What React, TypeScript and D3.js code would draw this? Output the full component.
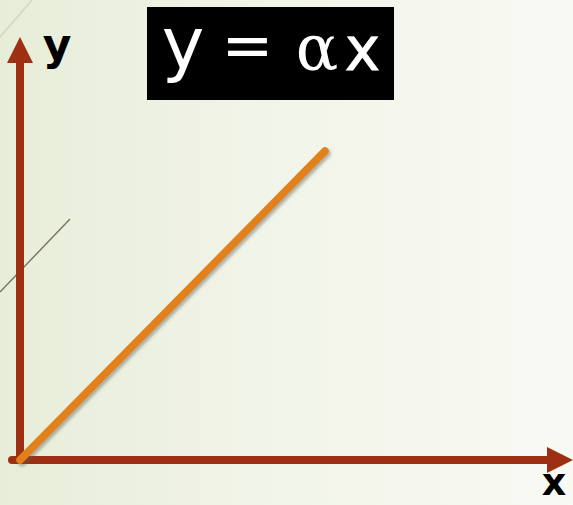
import React from "react";
import * as d3 from "d3";

// Proportional relation y = αx, drawn between two points
const alpha = 1;
const xValues = [0, 1];
const yValues = xValues.map((x) => alpha * x);

const axisLabels = ["x", "y"];
const equationParts = ["y", "=", "α", "x"];

const W = 573;
const H = 505;

export default function App() {
  const xScale = d3.scaleLinear().domain([0, 1]).range([20, 325]);
  const yScale = d3.scaleLinear().domain([0, 1]).range([460, 151]);

  const ox = xScale(0);
  const oy = yScale(0);
  const xTip = 573;
  const yTip = 37;
  const head = 26;
  const halfHead = 13;

  const lineGen = d3
    .line<number>()
    .x((d) => xScale(d))
    .y((_, i) => yScale(yValues[i]));

  const axisColor = "#9D2F12";

  return (
    <div style={{ position: "fixed", left: 0, top: 0, width: W, height: H }}>
      <svg width={W} height={H} style={{ display: "block" }}>
        <defs>
          <linearGradient id="bg" x1="0" y1="0" x2="1" y2="0">
            <stop offset="0" stopColor="#E8EDD9" />
            <stop offset="0.45" stopColor="#F1F4E8" />
            <stop offset="1" stopColor="#F9FAF4" />
          </linearGradient>
          <filter id="shadow" x="-10%" y="-10%" width="130%" height="130%">
            <feDropShadow dx="2" dy="2.5" stdDeviation="1.6" floodColor="#5a5a50" floodOpacity="0.45" />
          </filter>
        </defs>
        <rect x={0} y={0} width={W} height={H} fill="url(#bg)" />
        {/* decorative strokes */}
        <line x1={0} y1={37} x2={32} y2={0} stroke="#D2D5C4" strokeWidth={1.5} />
        <line x1={0} y1={292} x2={70} y2={219} stroke="#77725F" strokeWidth={1.4} />

        {/* axes */}
        <line x1={ox - 8} y1={oy} x2={xTip - head} y2={oy} stroke={axisColor} strokeWidth={8} strokeLinecap="round" />
        <line x1={ox} y1={oy + 4} x2={ox} y2={yTip + head} stroke={axisColor} strokeWidth={8} strokeLinecap="butt" />
        <path
          d={`M${xTip - head},${oy - halfHead}L${xTip},${oy}L${xTip - head},${oy + halfHead}Z`}
          fill={axisColor}
        />
        <path
          d={`M${ox - halfHead},${yTip + head}L${ox},${yTip}L${ox + halfHead},${yTip + head}Z`}
          fill={axisColor}
        />

        {/* relation line */}
        <path
          d={lineGen(xValues) || ""}
          fill="none"
          stroke="#E2801A"
          strokeWidth={7.5}
          strokeLinecap="round"
          filter="url(#shadow)"
        />

        {/* axis labels */}
        <text x={554} y={495} fontFamily="DejaVu Sans" fontWeight="bold" fontSize={38} textAnchor="middle" fill="#000">
          {axisLabels[0]}
        </text>
        <text x={57} y={60} fontFamily="DejaVu Sans" fontWeight="bold" fontSize={44} textAnchor="middle" fill="#000">
          {axisLabels[1]}
        </text>

        {/* equation box */}
        <rect x={147} y={7} width={247} height={93} fill="#000" />
        <text fill="#fff" textAnchor="middle">
          <tspan x={183} y={68} fontFamily="DejaVu Sans" fontSize={72}>{equationParts[0]}</tspan>
          <tspan x={247.5} y={67} fontFamily="DejaVu Sans" fontSize={62}>{" " + equationParts[1] + " "}</tspan>
          <tspan x={317} y={70} fontFamily="DejaVu Serif" fontSize={63}>{equationParts[2]}</tspan>
          <tspan x={362.5} y={70} fontFamily="DejaVu Sans" fontSize={60} stroke="#fff" strokeWidth={0.8}>{equationParts[3]}</tspan>
        </text>
      </svg>
    </div>
  );
}
